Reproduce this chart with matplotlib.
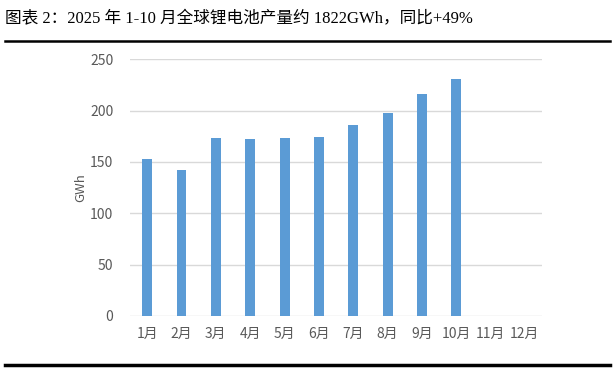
import matplotlib
matplotlib.use("Agg")
import matplotlib.pyplot as plt
import numpy as np

months = ["1月", "2月", "3月", "4月", "5月", "6月", "7月", "8月", "9月", "10月", "11月", "12月"]
output_gwh = [153, 142, 173, 172, 173, 174, 186, 198, 216, 231]
yticks = [0, 50, 100, 150, 200, 250]

plt.rcParams['font.family'] = ['Noto Sans CJK SC', 'DejaVu Sans']

fig = plt.figure(figsize=(6.15, 3.7), dpi=100)
ax = fig.add_axes([0.2114, 0.146, 0.67, 0.694])

x = np.arange(len(months))
ax.bar(x[:len(output_gwh)], output_gwh, width=0.29, color="#5B9BD5", zorder=3)

ax.set_xlim(-0.5, len(months) - 0.5)
ax.set_ylim(0, 250)
ax.set_yticks(yticks)
ax.set_xticks(x)
ax.set_xticklabels(months)
ax.grid(axis="y", color="#d9d9d9", lw=1, zorder=0)
for s in ax.spines.values():
    s.set_visible(False)
ax.tick_params(length=0, labelsize=10, colors="#595959", pad=8)
ax.tick_params(axis="y", pad=12)
ax.set_ylabel("GWh", fontsize=9.5, color="#595959", labelpad=2)

# title and rules
fig.text(0.008, 0.947, "图表 2：2025 年 1-10 月全球锂电池产量约 1822GWh，同比+49%",
         fontsize=12, family=['Liberation Serif', 'Noto Sans CJK SC'], va="center")
fig.add_artist(plt.Line2D([0.008, 0.992], [0.89, 0.89], color="black", lw=1.8))
fig.add_artist(plt.Line2D([0.008, 0.992], [0.013, 0.013], color="black", lw=2.5))

fig.savefig("out.png", dpi=100)
